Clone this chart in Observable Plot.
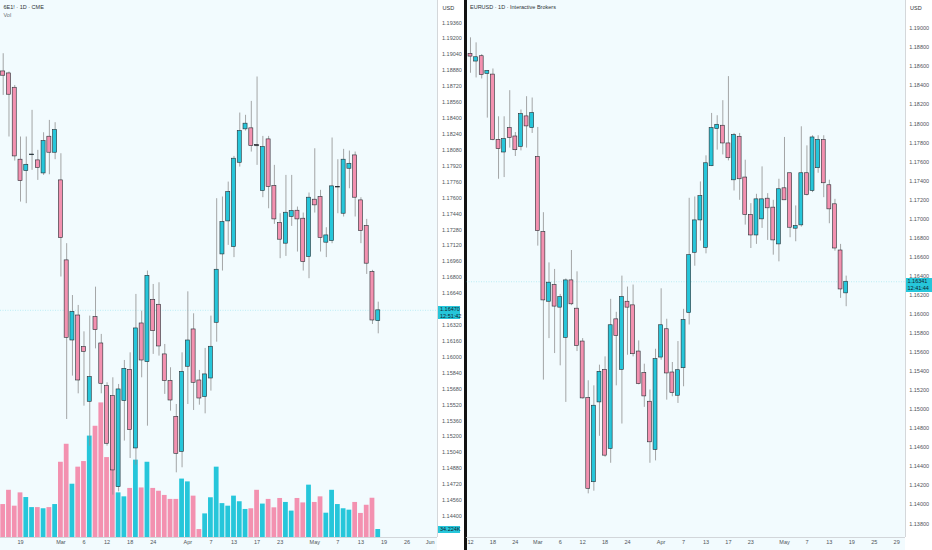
<!DOCTYPE html>
<html><head><meta charset="utf-8">
<script src="https://cdn.jsdelivr.net/npm/d3@7"></script>
<script src="https://cdn.jsdelivr.net/npm/@observablehq/plot@0.6"></script>
<style>
body{margin:0;}
#wrap{position:relative;width:932px;height:550px;overflow:hidden;background:#f2fbfe;font-family:"Liberation Sans",Arial,sans-serif;}
#wrap > *{position:absolute;}
.lbl{font-size:5.5px;line-height:6.2px;white-space:nowrap;}
.box{background:#26c6da;color:#10222e;font-size:5.5px;line-height:6.2px;padding-left:2px;box-sizing:border-box;white-space:nowrap;}
</style>
</head><body>
<div id="wrap"></div>
<script>
// ---------- Left panel: 6E1! 1D CME ----------
const leftOpen  = [1.18871,1.18851,1.18707,1.17984,1.17870,1.18032,1.17977,1.17846,1.18215,1.18054,1.17776,1.16972,1.16167,1.16418,1.16100,1.15551,1.16402,1.16137,1.15708,1.15608,1.14693,1.15558,1.15872,1.15082,1.16338,1.15949,1.16576,1.16526,1.16027,1.15759,1.15400,1.15048,1.15903,1.16278,1.15765,1.15598,1.15785,1.16345,1.17032,1.17364,1.17106,1.17953,1.18289,1.18299,1.18130,1.17669,1.18188,1.17719,1.17347,1.17140,1.17408,1.17471,1.17391,1.17006,1.17582,1.17609,1.17150,1.17166,1.17707,1.17441,1.17893,1.18027,1.17575,1.17317,1.16855,1.16362];
const leftHigh  = [1.19049,1.18865,1.18730,1.18212,1.18212,1.18480,1.18078,1.18255,1.18379,1.18356,1.18044,1.17140,1.16619,1.16519,1.16254,1.16412,1.16703,1.16228,1.15742,1.15792,1.15725,1.15966,1.16043,1.16630,1.16462,1.16865,1.16730,1.16747,1.16127,1.15893,1.15524,1.16043,1.16656,1.16435,1.15866,1.16087,1.16412,1.17592,1.17609,1.17759,1.18017,1.18453,1.18430,1.18570,1.18815,1.18218,1.18218,1.17927,1.17441,1.17826,1.17826,1.17508,1.17448,1.17649,1.18094,1.17676,1.17300,1.18202,1.17984,1.18088,1.18071,1.18061,1.17602,1.17384,1.16872,1.16552];
const leftLow   = [1.18630,1.18212,1.17970,1.17558,1.17542,1.17877,1.17776,1.17826,1.17833,1.17984,1.16805,1.15373,1.15809,1.15631,1.15507,1.15105,1.16083,1.15631,1.15105,1.14613,1.14646,1.15156,1.14981,1.14914,1.15792,1.15306,1.16027,1.16010,1.15625,1.15457,1.14837,1.14888,1.15524,1.15464,1.15517,1.15430,1.15658,1.16150,1.16865,1.17123,1.17000,1.17910,1.18272,1.18061,1.17927,1.17602,1.17491,1.17334,1.16989,1.17012,1.17314,1.17056,1.16865,1.16788,1.17448,1.17056,1.17000,1.17140,1.17441,1.17408,1.17692,1.17408,1.17140,1.16831,1.16328,1.16234];
const leftClose = [1.18828,1.18637,1.18017,1.17769,1.17933,1.18036,1.17900,1.18171,1.18054,1.18282,1.17196,1.16194,1.16455,1.15765,1.16053,1.15799,1.16271,1.15732,1.15129,1.14861,1.15675,1.15882,1.15266,1.16288,1.15966,1.16817,1.16261,1.16107,1.15759,1.15564,1.15028,1.15852,1.16167,1.15742,1.15584,1.15826,1.16104,1.16878,1.17357,1.17659,1.17994,1.18272,1.18346,1.18121,1.18126,1.18111,1.17709,1.17384,1.17180,1.17451,1.17468,1.17384,1.16955,1.17602,1.17525,1.17197,1.17223,1.17716,1.17711,1.17984,1.17943,1.17602,1.17267,1.16939,1.16368,1.16470];
const leftVolK  = [141,202,134,191,171,128,128,123,128,141,322,399,228,301,325,434,476,576,342,288,191,174,210,331,212,322,210,198,180,163,163,250,238,177,34,101,170,301,145,134,177,153,120,123,202,143,163,127,167,150,113,167,148,224,150,174,104,202,141,123,117,150,103,138,168,34.2];
const leftPriceTicks = [1.1440,1.1456,1.1472,1.1488,1.1504,1.1520,1.1536,1.1552,1.1568,1.1584,1.1600,1.1616,1.1632,1.1664,1.1680,1.1696,1.1712,1.1728,1.1744,1.1760,1.1776,1.1792,1.1808,1.1824,1.1840,1.1856,1.1872,1.1888,1.1904,1.1920,1.1936];
const leftDateTickIdx = [3,10,14,18,22,26,32,36,40,44,48,54,58,62,66,70,74];
const leftDateLabels  = ["19","Mar","6","12","18","24","Apr","7","13","17","23","May","7","13","19","26","Jun"];

// ---------- Right panel: EURUSD 1D Interactive Brokers ----------
const rightOpen  = [1.18733,1.18653,1.18709,1.18523,1.18516,1.17831,1.17698,1.17954,1.17866,1.17757,1.18077,1.17954,1.17652,1.16862,1.16131,1.16306,1.16069,1.15752,1.16355,1.16058,1.15713,1.15120,1.14236,1.15074,1.15416,1.14585,1.15946,1.15416,1.16131,1.16093,1.15608,1.15381,1.15081,1.14575,1.15545,1.15842,1.15388,1.15144,1.15433,1.16012,1.16645,1.16985,1.16697,1.17554,1.17944,1.17979,1.17793,1.17406,1.17863,1.17435,1.17042,1.16827,1.16996,1.17213,1.17119,1.16733,1.17322,1.17480,1.16898,1.16933,1.17480,1.17294,1.17533,1.17828,1.17354,1.17154,1.16669,1.16219];
const rightHigh  = [1.18902,1.18849,1.18726,1.18558,1.18575,1.18073,1.18073,1.18347,1.17908,1.18144,1.18284,1.18270,1.17961,1.17066,1.16539,1.16470,1.16208,1.16370,1.16669,1.16445,1.15744,1.15301,1.15248,1.15465,1.15552,1.16156,1.16020,1.16400,1.16285,1.16306,1.15720,1.15475,1.15204,1.15632,1.16267,1.15947,1.15493,1.15713,1.16051,1.17217,1.17231,1.17389,1.17663,1.18108,1.18084,1.18242,1.18495,1.17898,1.17898,1.17617,1.17161,1.17259,1.17547,1.17266,1.17196,1.17417,1.17856,1.17480,1.17137,1.17968,1.17768,1.17874,1.17874,1.17874,1.17407,1.17206,1.16733,1.16400];
const rightLow   = [1.18530,1.18481,1.18470,1.18059,1.17821,1.17417,1.17435,1.17744,1.17656,1.17715,1.17744,1.17898,1.16715,1.15308,1.15744,1.15587,1.15458,1.15074,1.16090,1.15608,1.15110,1.14114,1.14142,1.14718,1.14498,1.14435,1.15248,1.14847,1.15569,1.15552,1.15259,1.15022,1.14435,1.14460,1.15517,1.15098,1.15133,1.15063,1.15238,1.15887,1.16504,1.16768,1.16634,1.17550,1.17723,1.17673,1.17610,1.17294,1.17196,1.16936,1.16690,1.16733,1.16901,1.16775,1.16620,1.16550,1.17196,1.16803,1.16761,1.16915,1.17242,1.17277,1.17480,1.17224,1.16950,1.16662,1.16166,1.16079];
const rightClose = [1.18705,1.18698,1.18512,1.18554,1.17828,1.17733,1.17838,1.17849,1.17722,1.18101,1.17972,1.18112,1.16873,1.16145,1.16331,1.16080,1.16180,1.16355,1.16104,1.15667,1.15116,1.14167,1.15039,1.15395,1.14515,1.15884,1.15772,1.16180,1.16069,1.15580,1.15266,1.15137,1.14655,1.15528,1.15884,1.15378,1.15172,1.15412,1.15939,1.16620,1.16985,1.17240,1.17585,1.17954,1.17989,1.17793,1.17638,1.17881,1.17417,1.17042,1.16827,1.17206,1.17206,1.17112,1.16775,1.17312,1.17196,1.16908,1.16926,1.17480,1.17252,1.17856,1.17831,1.17375,1.17101,1.16690,1.16260,1.16341];
const rightPriceTicks = [1.138,1.140,1.142,1.144,1.146,1.148,1.150,1.152,1.154,1.156,1.158,1.160,1.162,1.164,1.166,1.168,1.170,1.172,1.174,1.176,1.178,1.180,1.182,1.184,1.186,1.188,1.190];
const rightDateTickIdx = [0,4,8,12,16,20,24,28,34,38,42,46,50,56,60,64,68,72,76];
const rightDateLabels  = ["12","18","24","Mar","6","12","18","24","Apr","7","13","17","23","May","7","13","19","25","29"];

const TEAL = "#26c6da", PINK = "#f391b0", EDGE = "#262d33", WICK = "#8f8f8f", TXT = "#4f5459";
const FONT = "Liberation Sans, Arial, sans-serif";

const wrap = document.getElementById("wrap");
function div(style, text, cls) {
  const d = document.createElement("div");
  if (cls) d.className = cls;
  d.setAttribute("style", style);
  if (text != null) d.innerHTML = text;
  wrap.appendChild(d);
  return d;
}

// axis strips and separator
div("left:437px;top:0;width:27px;height:550px;background:#ffffff;");
div("left:905px;top:0;width:27px;height:550px;background:#ffffff;");
div("left:464px;top:0;width:2.6px;height:550px;background:#111;");

function makeRows(O, H, L, C, V) {
  return O.map((o, i) => ({i, o, h: H[i], l: L[i], c: C[i], v: V ? V[i] : 0}));
}
const leftRows = makeRows(leftOpen, leftHigh, leftLow, leftClose, leftVolK);
const rightRows = makeRows(rightOpen, rightHigh, rightLow, rightClose, null);
const col = d => d.c >= d.o ? TEAL : PINK;

function candleMarks(rows, priceTicks, dateIdx, dateLabels, xmax, ymin, pad) {
  const lab = new Map(dateIdx.map((d, k) => [d, dateLabels[k]]));
  const last = rows[rows.length - 1];
  return [
    Plot.ruleY([last.c], {stroke: TEAL, strokeOpacity: 0.45, strokeWidth: 0.6, strokeDasharray: "1,1.5"}),
    Plot.ruleX(rows, {x: "i", y1: "l", y2: "h", stroke: WICK, strokeWidth: 0.8}),
    Plot.rect(rows, {x1: d => d.i - 0.35, x2: d => d.i + 0.35, y1: "o", y2: "c", fill: col, stroke: EDGE, strokeWidth: 0.6}),
    Plot.ruleY(rows.filter(d => Math.abs(d.c - d.o) < 0.00006), {y: "c", x1: d => d.i - 0.4, x2: d => d.i + 0.4, stroke: EDGE, strokeWidth: 0.8}),
    Plot.ruleX([xmax], {stroke: "#c9cdd1", strokeWidth: 0.8}),
    Plot.ruleY([ymin], {stroke: "#c9cdd1", strokeWidth: 0.8}),
    Plot.axisY({anchor: "right", ticks: priceTicks, tickSize: 0, tickPadding: pad, tickFormat: d3.format(".5f"), fill: TXT, fontSize: 5.5, label: null}),
    Plot.axisX({anchor: "bottom", ticks: dateIdx, tickSize: 0, tickPadding: 3, tickFormat: d => lab.get(d), fill: TXT, fontSize: 5.5, label: null})
  ];
}

const LX = [-0.468, 75.27], LY = [1.14187, 1.19584];
const RX = [-0.713, 77.58], RY = [1.136555, 1.19294];

// left volume (behind candles)
const volPlot = Plot.plot({
  width: 462, height: 550, marginLeft: 0, marginRight: 25, marginTop: 0, marginBottom: 13,
  x: {domain: LX, axis: null},
  y: {domain: [0, 2298], axis: null},
  color: {type: "identity"},
  style: {background: "transparent", fontFamily: FONT},
  marks: [
    Plot.rect(leftRows, {x1: d => d.i - 0.5, x2: d => d.i + 0.5, y1: 0, y2: "v", fill: col, insetLeft: 0.5, insetRight: 0.5})
  ]
});
volPlot.style.left = "0px"; volPlot.style.top = "0px";
wrap.appendChild(volPlot);

const leftPlot = Plot.plot({
  width: 462, height: 550, marginLeft: 0, marginRight: 25, marginTop: 0, marginBottom: 13,
  x: {domain: LX, axis: null},
  y: {domain: LY, axis: null},
  color: {type: "identity"},
  style: {background: "transparent", fontFamily: FONT},
  marks: candleMarks(leftRows, leftPriceTicks, leftDateTickIdx, leftDateLabels, LX[1], LY[0], 4.5)
});
leftPlot.style.left = "0px"; leftPlot.style.top = "0px";
wrap.appendChild(leftPlot);

const rightPlot = Plot.plot({
  width: 466, height: 550, marginLeft: 0, marginRight: 27, marginTop: 0, marginBottom: 13,
  x: {domain: RX, axis: null},
  y: {domain: RY, axis: null},
  color: {type: "identity"},
  style: {background: "transparent", fontFamily: FONT},
  marks: candleMarks(rightRows, rightPriceTicks, rightDateTickIdx, rightDateLabels, RX[1], RY[0], 3.7)
});
rightPlot.style.left = "466px"; rightPlot.style.top = "0px";
wrap.appendChild(rightPlot);

// titles and unit labels
div("left:3.5px;top:4px;color:#2f3337;", "6E1! · 1D · CME", "lbl");
div("left:3.5px;top:12px;color:#6a6f74;", "Vol", "lbl");
div("left:470px;top:4px;color:#2f3337;", "EURUSD · 1D · Interactive Brokers", "lbl");
div("left:442.5px;top:4.5px;color:#2f3337;", "USD", "lbl");
div("left:910px;top:4.5px;color:#2f3337;", "USD", "lbl");

// last-price labels positioned through the plots' own scales
const lyL = leftPlot.scale("y").apply(leftClose[leftClose.length - 1]);
div(`left:438px;top:${lyL - 3.5}px;width:22px;height:12.6px;`, d3.format(".5f")(leftClose[leftClose.length - 1]) + "<br>12:51:42", "box");
const lyR = rightPlot.scale("y").apply(rightClose[rightClose.length - 1]);
div(`left:905.5px;top:${lyR - 3.5}px;width:26.5px;height:14px;padding-top:0.6px;`, d3.format(".5f")(rightClose[rightClose.length - 1]) + "<br>12:41:44", "box");
const lyV = volPlot.scale("y").apply(leftVolK[leftVolK.length - 1]);
div(`left:438px;top:${lyV - 3.2}px;width:21.5px;height:7.4px;line-height:7.4px;`, "34.224K", "box");
</script>
</body></html>
